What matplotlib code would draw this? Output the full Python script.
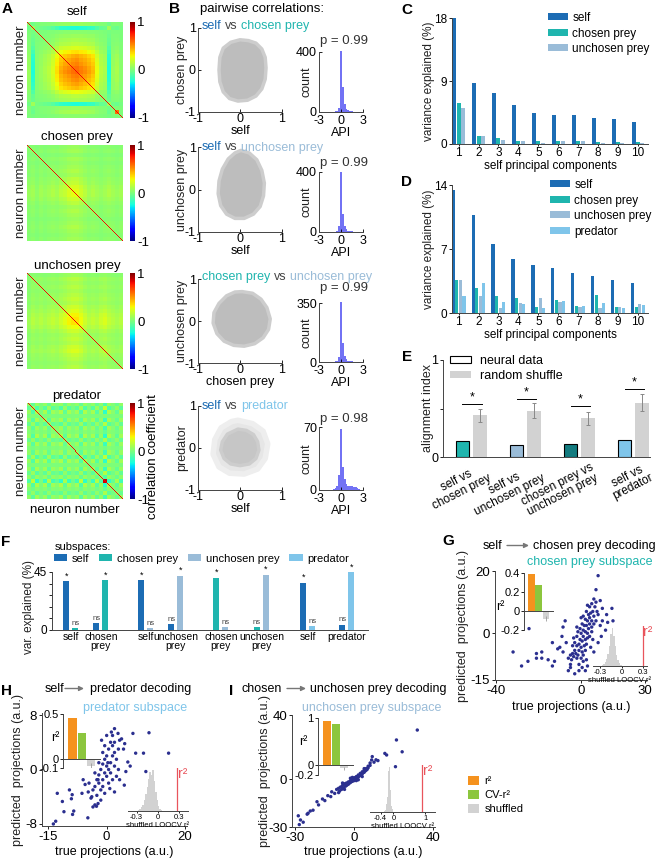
import numpy as np
import matplotlib.pyplot as plt
from matplotlib.patches import Patch

plt.rcParams['font.family'] = ['Liberation Sans', 'DejaVu Sans']
plt.rcParams['font.size'] = 8.5
plt.rcParams['axes.linewidth'] = 0.7
plt.rcParams['axes.edgecolor'] = '#444444'
plt.rcParams['axes.unicode_minus'] = False
plt.rcParams['xtick.major.size'] = 2
plt.rcParams['ytick.major.size'] = 2
plt.rcParams['xtick.major.width'] = 0.6
plt.rcParams['ytick.major.width'] = 0.6
plt.rcParams['xtick.major.pad'] = 1.5
plt.rcParams['ytick.major.pad'] = 1.5

# colours
C_SELF = '#1c6cb4'
C_CHOSEN = '#1fb5ae'
C_UNCH = '#9abcd8'
C_PRED = '#7fc5ea'
C_DARKTEAL = '#137b7f'
C_HIST = '#7272f4'
C_CLOUD = '#bdbdbd'
C_DOT = '#2b2f8f'
C_ORANGE = '#f5921e'
C_GREEN = '#8cc63e'
C_SHUF = '#d2d2d2'
C_RED = '#e9545c'

# ---------------- A: correlation matrices (group loadings, 24 groups x 4 neurons)
self_load_a = [0.1, -0.3, 0.05, 0.1, 0.15, 0.2, 0.3, 0.45, 0.6, 0.66, 0.7, 0.75,
               0.78, 0.72, 0.68, 0.62, 0.55, 0.35, 0.2, 0.15, -0.3, 0.1, 0.15, 0.05]
self_load_b = [0, 0, 0, 0, 0, 0, 0, 0, 0, 0, 0, 0,
               0, 0, 0, 0, 0, 0, 0, 0, 0, 0, 0.75, 0]
chosen_load_a = [0.15, 0.2, 0.1, 0.2, 0.15, 0.2, 0.25, 0.2, 0.3, 0.35, 0.45, 0.5,
                 0.5, 0.4, 0.3, 0.2, 0.25, 0.2, 0.15, 0.2, 0.25, 0.2, 0.15, 0.2]
chosen_load_b = [0] * 24
unch_load_a = [0.15, 0.25, 0.2, 0.25, 0.2, 0.25, 0.3, 0.25, 0.35, 0.42, 0.52, 0.58,
               0.58, 0.48, 0.35, 0.25, 0.3, 0.25, 0.35, 0.4, 0.3, 0.25, 0.2, 0.25]
unch_load_b = [0] * 24
pred_load_a = [0.2, -0.3, 0.35, 0.0, 0.3, -0.25, 0.25, 0.1, 0.35, -0.2, 0.3, 0.05,
               0.25, -0.3, 0.35, 0.0, 0.3, -0.25, 0.2, -0.55, 0.35, 0.1, -0.2, 0.25]
pred_load_b = [0, 0, 0, 0, 0, 0, 0, 0, 0, 0, 0, 0,
               0, 0, 0, 0, 0, 0, 0, 0.85, 0, 0, 0, 0]
A_titles = ['self', 'chosen prey', 'unchosen prey', 'predator']
A_diag = 0.8

# ---------------- B: pairwise correlation clouds (outline of the dense point cloud)
cloud1 = [(0.0, 0.72), (0.2, 0.70), (0.38, 0.64), (0.52, 0.50), (0.60, 0.30), (0.62, 0.05),
          (0.60, -0.22), (0.52, -0.45), (0.38, -0.62), (0.18, -0.72), (-0.05, -0.74),
          (-0.25, -0.68), (-0.40, -0.52), (-0.48, -0.28), (-0.50, 0.0), (-0.48, 0.30),
          (-0.40, 0.52), (-0.22, 0.66)]
cloud2 = [(0.02, 0.92), (0.22, 0.86), (0.40, 0.70), (0.52, 0.45), (0.58, 0.15), (0.56, -0.15),
          (0.48, -0.40), (0.32, -0.58), (0.10, -0.68), (-0.12, -0.68), (-0.32, -0.58),
          (-0.46, -0.38), (-0.52, -0.10), (-0.50, 0.20), (-0.42, 0.48), (-0.28, 0.72),
          (-0.12, 0.86)]
cloud3 = [(0.05, 0.70), (0.30, 0.66), (0.50, 0.52), (0.64, 0.32), (0.72, 0.05), (0.68, -0.20),
          (0.55, -0.40), (0.35, -0.54), (0.10, -0.60), (-0.15, -0.58), (-0.38, -0.48),
          (-0.55, -0.30), (-0.64, -0.05), (-0.62, 0.20), (-0.50, 0.42), (-0.32, 0.60),
          (-0.12, 0.69)]
cloud4 = [(-0.05, 0.45), (0.15, 0.42), (0.32, 0.32), (0.42, 0.15), (0.45, -0.05), (0.38, -0.25),
          (0.22, -0.38), (0.0, -0.42), (-0.22, -0.38), (-0.38, -0.25), (-0.46, -0.05),
          (-0.42, 0.15), (-0.30, 0.33)]
cloud4_halo = [(-0.05, 0.66), (0.3, 0.58), (0.55, 0.4), (0.66, 0.1), (0.6, -0.25), (0.42, -0.5),
               (0.1, -0.62), (-0.25, -0.6), (-0.5, -0.45), (-0.64, -0.15), (-0.6, 0.2),
               (-0.45, 0.48), (-0.2, 0.63)]
B_xlabels = ['self', 'self', 'chosen prey', 'self']
B_ylabels = ['chosen prey', 'unchosen prey', 'unchosen prey', 'predator']
B_titles = [[('self', C_SELF), ('vs', '#444444'), ('chosen prey', C_CHOSEN)],
            [('self', C_SELF), ('vs', '#444444'), ('unchosen prey', C_UNCH)],
            [('chosen prey', C_CHOSEN), ('vs', '#444444'), ('unchosen prey', C_UNCH)],
            [('self', C_SELF), ('vs', '#444444'), ('predator', C_PRED)]]
api_centers = np.arange(-1.5, 3.0, 0.25)
api_counts1 = [0, 1, 2, 4, 8, 30, 410, 170, 55, 22, 12, 8, 5, 3, 2, 1, 1, 0]
api_counts2 = [0, 1, 2, 3, 6, 40, 400, 120, 40, 18, 10, 6, 4, 2, 1, 1, 0, 0]
api_counts3 = [0, 1, 2, 3, 6, 30, 355, 110, 35, 15, 8, 5, 3, 2, 1, 1, 0, 0]
api_counts4 = [0, 0, 1, 2, 5, 17, 68, 26, 12, 7, 5, 4, 4, 3, 3, 2, 1, 0]
api_ymax = [400, 400, 350, 70]
api_p = ['p = 0.99', 'p = 0.99', 'p = 0.99', 'p = 0.98']

# ---------------- C / D: variance explained in self principal components
pcs = [1, 2, 3, 4, 5, 6, 7, 8, 9, 10]
C_self = [18.0, 8.7, 7.3, 5.6, 4.5, 4.2, 4.1, 3.7, 3.6, 3.1]
C_chosen = [5.8, 1.1, 0.9, 0.5, 0.4, 0.5, 0.5, 0.3, 0.3, 0.3]
C_unch = [5.1, 1.1, 0.6, 0.4, 0.2, 0.5, 0.4, 0.15, 0.1, 0.1]
D_self = [13.4, 10.7, 7.6, 5.9, 5.2, 4.9, 4.4, 4.1, 3.6, 3.3]
D_chosen = [3.6, 2.7, 1.9, 1.6, 0.65, 1.4, 0.75, 2.0, 0.65, 0.7]
D_unch = [3.6, 1.9, 0.6, 1.1, 1.6, 1.2, 0.65, 0.5, 0.7, 1.0]
D_pred = [1.9, 3.3, 1.2, 0.95, 0.55, 1.3, 0.75, 1.1, 0.6, 0.9]

# ---------------- E: alignment index
E_groups = ['self vs\nchosen prey', 'self vs\nunchosen prey',
            'chosen prey vs\nunchosen prey', 'self vs\npredator']
E_neural = [0.162, 0.128, 0.138, 0.18]
E_shuffle = [0.43, 0.476, 0.40, 0.56]
E_shuffle_err = [0.069, 0.078, 0.069, 0.09]
E_sig_y = [0.55, 0.60, 0.53, 0.70]
E_colors = [C_CHOSEN, C_UNCH, C_DARKTEAL, C_PRED]

# ---------------- F: variance explained in subspaces
F_pos = [0, 1, 2.5, 3.5, 5, 6.35, 7.9, 9.2]
F_labels = ['self', 'chosen\nprey', 'self', 'unchosen\nprey', 'chosen\nprey',
            'unchosen\nprey', 'self', 'predator']
F_left = [38.0, 5.0, 38.5, 4.4, 40.6, 2.3, 36.7, 3.9]
F_right = [1.0, 38.5, 0.8, 42.0, 1.8, 43.0, 2.9, 45.0]
F_left_sub = ['self', 'self', 'self', 'self', 'chosen prey', 'chosen prey', 'self', 'self']
F_right_sub = ['chosen prey', 'chosen prey', 'unchosen prey', 'unchosen prey',
               'unchosen prey', 'unchosen prey', 'predator', 'predator']
F_left_sig = ['*', 'ns', '*', 'ns', '*', 'ns', '*', 'ns']
F_right_sig = ['ns', '*', 'ns', '*', 'ns', '*', 'ns', '*']
sub_colors = {'self': C_SELF, 'chosen prey': C_CHOSEN,
              'unchosen prey': C_UNCH, 'predator': C_PRED}

# ---------------- G / H / I: decoding (true, predicted)
G_points = [(-32, -6), (-28, -10.5), (-25, -9), (-24.5, 1.5), (-21, -8), (-21, -6.5), (-18.5, -8),
            (-18.5, -6), (-15.5, -8.5), (-13.5, -3), (-13.5, -10.5), (-12.5, -9), (-11, -5),
            (-10, -4.5), (-9, -1), (-8.5, 2), (-7.5, 4), (-8.5, -6), (-7, -3), (-6, -12),
            (-5, -11), (-5, -10), (-4.5, -8.5), (-6, -8), (-3, -13), (-1, -12), (0.5, -11),
            (2, -12), (3, -10.5), (1, -9), (-5, -7), (-4, -6.5), (-3.5, -7.5), (-3, -5.5),
            (-2.5, -6.5), (-2, -8), (-1.5, -7), (-1, -5.5), (-2, -4), (-3, -3), (-1, -3.5),
            (0, -4.5), (0.5, -6), (1, -7), (-0.5, -2), (0.5, -2.5), (1.5, -4), (2, -5.5), (0, 0),
            (1, -1), (2, -2), (2.5, -3.5), (3, -1.5), (1, 1), (2, 0.5), (3, 0), (3.5, 1.5),
            (2.5, 2.5), (1.5, 2.5), (0.5, 3), (-0.5, 1.5), (-1.5, 0.5), (4, 3), (3, 4), (2, 4.5),
            (4, 5), (5, 4), (4.5, 6.5), (3.5, 6), (5.5, 7), (6, 5.5), (2.5, 7), (4, 8.5),
            (5, 9.5), (6.5, 8.5), (6, 11), (7, 10), (7.5, 7), (8, 6), (-2, -1), (-3.5, -1.5),
            (-4, -4), (5, 2), (6, 3), (7, 4), (1, 5.5), (3, 9), (0, -8), (2.5, -8.5), (-1, -10),
            (4, -1), (5, 0.5), (-2, 2), (0, 5), (8, 18.5), (7, 14), (9, 10.5), (10, 8),
            (14.5, 8), (12, 6), (12.5, 3.5), (11.5, 1), (9.5, -1), (8, -3), (9, 2.5), (15, 4),
            (6, -6), (4.5, -4.5), (10, 4), (5.5, -2)]
H_points = [(-13.6, -8), (-13, -7.6), (-4.8, -7.1), (-10.9, -6.2), (-8.7, -6.6), (-8.4, -6.1),
            (-12.6, -3.5), (-11.3, -4.7), (-9.5, -3), (-8.8, -3.7), (-9, -4.3), (-6.3, -3.5),
            (-4.7, -3.3), (-3.8, -4), (-3, -5.2), (-2.6, -5.4), (-2.2, -5), (-6, -1.5),
            (-5.5, -2.2), (-4, -4.2), (-3.5, -3), (-3, -2.5), (-2.5, -3.8), (-2, -2), (-1.5, -3),
            (-1, -1.5), (-2, -0.8), (-1.5, 0), (-1, -2.5), (-0.5, -0.5), (0, -1), (0, 0.5),
            (0.5, -2), (0.5, 0), (1, 1), (1, -0.5), (-0.5, 1.5), (0, 2), (1.5, 2), (-1, 2.5),
            (0.5, 3), (1.5, 3.5), (2, 2.5), (2, 0.5), (2.5, 1.5), (-0.5, 3.5), (1, 4), (2, 4),
            (-1.3, 4.3), (2.5, -1), (1.5, -1.5), (-2.5, -1.5), (-3, -0.5), (-1, 0.8), (0.3, 1),
            (-2.2, -1.5), (2, -3.3), (4.5, -2.3), (3.3, -1.5), (4.9, -0.3), (-3.5, -5.5),
            (-1.5, -4.5), (-0.5, -3.5), (0.8, -2.8), (-2, 1), (3, 0), (-4.5, -2), (2, 6),
            (1.2, 5.5), (2.9, 5.3), (3.8, 4.5), (4.6, 3.8), (3.3, 4.3), (0, 5), (1.5, 5), (3, 3),
            (4.3, 3), (6.7, 5.3), (10.8, 5.4), (15.8, 2.4), (9.4, 2.4), (10, -0.3), (5.4, 1.1),
            (7.4, 2.4), (6, 0.5)]
I_points = [(-28, -28.5), (-27.4, -25.6), (-28.5, -23), (-24, -22), (-23.5, -21.4), (-22.4, -20),
            (-21, -19.5), (-19, -14.2), (-18.2, -16.2), (-16.2, -12.5), (-13.5, -10.4),
            (-11.5, -8), (-10, -9), (-12, -11), (-9, -6.5), (-8, -5.8), (-7.5, -7.5), (-7, -5),
            (-6.5, -6.5), (-6, -4), (-5.5, -5.5), (-5, -3), (-4.5, -4.5), (-4, -2.5), (-4, -4),
            (-3.5, -3.5), (-3, -1.8), (-3, -3.2), (-2.5, -2.5), (-2, -1), (-2, -2.2),
            (-1.5, -1.5), (-1, -0.2), (-1, -1.5), (-0.5, -0.8), (0, 0), (0, 0.8), (0, -1),
            (0.5, 0.5), (1, 1.5), (1, 0.2), (1.5, 1), (2, 2.5), (2, 1.2), (2.5, 2), (3, 3.5),
            (3, 2.2), (3.5, 3), (4, 4.5), (4, 3.2), (4.5, 4), (5, 5.5), (5, 4.2), (5.5, 5),
            (6, 6.5), (6, 5.5), (6.5, 6), (7, 8), (7, 7), (8, 8.5), (8.8, 11.9), (8, 10),
            (9.1, 14), (10, 10.5), (11, 12), (12, 11.5), (-6, -2.5), (-2, 0.5), (-8, -8.5),
            (2, -0.5), (4, 1.5), (-5, -6.5), (5, 6.5), (1, -1), (-1, 1), (15.5, 16), (16.4, 15),
            (20.9, 7.7), (21.4, 24.4), (24.3, 17), (32, 30.6), (-15, -13.5), (-26, -27)]
G_r2 = [0.39, 0.27, -0.08]
H_r2 = [0.46, 0.29, -0.08]
I_r2 = [0.93, 0.86, -0.06]
r2_err = [0.03, 0.03, 0.03]
G_shuf = [1, 2, 4, 7, 12, 20, 32, 38, 30, 20, 11, 6, 3, 1]
H_shuf = [1, 2, 4, 6, 10, 16, 22, 30, 36, 33, 38, 28, 18, 10, 5, 2, 1]
I_shuf = [1, 2, 4, 8, 15, 28, 40, 44, 36, 22, 12, 6, 3, 1]
G_r2_true, H_r2_true, I_r2_true = 0.29, 0.27, 0.9

# ================================================================ figure
W, H = 656, 859
fig = plt.figure(figsize=(W / 100, H / 100), dpi=100)


def add_px(x0, y0, x1, y1):
    return fig.add_axes([x0 / W, 1 - y1 / H, (x1 - x0) / W, (y1 - y0) / H])


def to_axes(ax, x, y):
    bb = ax.get_position()
    return ((x / W - bb.x0) / bb.width, ((1 - y / H) - bb.y0) / bb.height)


def ylab(ax, text, x, size=9, color='#222222', yc=0.5):
    ax.set_ylabel(text, va='center', fontsize=size, color=color)
    ax.yaxis.set_label_coords(to_axes(ax, x, 0)[0], yc)


def xlab(ax, text, y, size=9):
    ax.set_xlabel(text, va='center', fontsize=size)
    ax.xaxis.set_label_coords(0.5, to_axes(ax, 0, y)[1])


def lspines(ax):
    ax.spines['top'].set_visible(False)
    ax.spines['right'].set_visible(False)


ov = fig.add_axes([0, 0, 1, 1], zorder=20)
ov.set_xlim(0, W)
ov.set_ylim(H, 0)
ov.axis('off')


def color_text(x, y, parts, size=9):
    t = ov.text(x, y, parts[0][0], color=parts[0][1], fontsize=size, va='baseline')
    for s, c in parts[1:]:
        t = ov.annotate(s, xy=(1, 0), xycoords=t, xytext=(2.5, 0),
                        textcoords='offset points', va='bottom', color=c, fontsize=size)


for letter, x, y in [('A', 7, 9), ('B', 174, 9), ('C', 407, 10), ('D', 407, 182),
                     ('E', 407, 357), ('F', 6, 542), ('G', 448, 541), ('H', 7, 691),
                     ('I', 231, 691)]:
    ov.text(x, y, letter, fontsize=11, fontweight='bold', ha='center', va='center')

# ---------------- A
A_loads = [(self_load_a, self_load_b), (chosen_load_a, chosen_load_b),
           (unch_load_a, unch_load_b), (pred_load_a, pred_load_b)]
A_tops = [22, 145, 273, 403]
A_title_y = [12, 137, 266, 396]
for i in range(4):
    a = np.repeat(A_loads[i][0], 4)
    b = np.repeat(A_loads[i][1], 4)
    corr = np.clip(np.outer(a, a) + np.outer(b, b), -1, 0.85)
    np.fill_diagonal(corr, A_diag)
    top = A_tops[i]
    ax = add_px(27, top, 123, top + 96)
    im = ax.imshow(corr, cmap='jet', vmin=-1, vmax=1, interpolation='nearest', aspect='auto')
    ax.set_xticks([])
    ax.set_yticks([])
    for s in ax.spines.values():
        s.set_visible(False)
    ylab(ax, 'neuron number', 21, size=9.5)
    ov.text(77, A_title_y[i], A_titles[i], fontsize=9.5, ha='center', va='center')
    cax = add_px(130, top, 135, top + 96)
    cb = fig.colorbar(im, cax=cax, ticks=[-1, 0, 1])
    cb.outline.set_visible(False)
    cax.tick_params(labelsize=9.5, length=0, pad=1.5)
    if i == 3:
        xlab(ax, 'neuron number', 510, size=9.5)
        ov.text(153, 457, 'correlation coefficient', rotation=90, fontsize=9.5,
                ha='center', va='center')

# ---------------- B
ov.text(200, 12, 'pairwise correlations:', fontsize=9.5, va='baseline')
clouds = [cloud1, cloud2, cloud3, cloud4]
api_counts = [api_counts1, api_counts2, api_counts3, api_counts4]
sc_rows = [(28, 112), (147, 232), (279, 363), (406, 490)]
hi_rows = [(52, 112), (172, 232), (303, 362), (427, 490)]
title_base = [29, 150.5, 280, 409]
p_base = [44, 166, 291, 422]
for i in range(4):
    ax = add_px(198, sc_rows[i][0], 282, sc_rows[i][1])
    if i == 3:
        hx, hy = zip(*cloud4_halo)
        ax.fill(hx, hy, facecolor='#e6e6e6', edgecolor='#eeeeee', lw=4, joinstyle='round')
    cx, cy = zip(*clouds[i])
    ax.fill(cx, cy, facecolor=C_CLOUD if i < 3 else '#c6c6c6', edgecolor='#cdcdcd',
            lw=2.5, joinstyle='round')
    ax.set_xlim(-1, 1)
    ax.set_ylim(-1, 1)
    ax.set_xticks([-1, 0, 1])
    ax.set_yticks([-1, 0, 1])
    ax.tick_params(labelsize=9, direction='in')
    ax.tick_params(axis='x', pad=0.8)
    ax.tick_params(axis='y', pad=1.5)
    lspines(ax)
    ylab(ax, B_ylabels[i], 182)
    xlab(ax, B_xlabels[i], sc_rows[i][1] + 19)
    color_text(202, title_base[i], B_titles[i], size=9)

    axh = add_px(319, hi_rows[i][0], 363, hi_rows[i][1])
    axh.bar(api_centers, api_counts[i], width=0.25, color=C_HIST, clip_on=False)
    axh.set_xlim(-3, 3)
    axh.set_ylim(0, api_ymax[i])
    axh.set_xticks([-3, 0, 3])
    axh.set_yticks([0, api_ymax[i]])
    axh.tick_params(labelsize=9, direction='in')
    axh.tick_params(axis='x', pad=2.5)
    axh.tick_params(axis='y', pad=1.5)
    lspines(axh)
    ylab(axh, 'count', 306)
    xlab(axh, 'API', hi_rows[i][1] + 21)
    ov.text(320, p_base[i], api_p[i], fontsize=9.5, va='baseline', color='#333333')


# ---------------- C and D
def pc_panel(rect, series, colors, names, offsets, width, ymax, yt, xlab_y, leg_anchor):
    ax = add_px(*rect)
    for vals, col, nm, off in zip(series, colors, names, offsets):
        ax.bar(np.array(pcs) + off, vals, width=width, color=col, label=nm)
    ax.set_xlim(0.67, 10.5)
    ax.set_ylim(0, ymax)
    ax.set_xticks(pcs)
    ax.set_yticks(yt)
    ax.tick_params(labelsize=8.5)
    ax.tick_params(axis='x', length=1.5, pad=1)
    lspines(ax)
    ylab(ax, 'variance explained (%)', 429, size=8.5)
    xlab(ax, 'self principal components', xlab_y, size=8.5)
    ax.legend(loc='upper left', bbox_to_anchor=to_axes(ax, *leg_anchor), frameon=False,
              fontsize=8.5, handlelength=1.7, handleheight=0.55, handletextpad=0.35,
              labelspacing=0.3, borderpad=0, borderaxespad=0)
    return ax


pc_panel((452, 18, 648, 144), [C_self, C_chosen, C_unch], [C_SELF, C_CHOSEN, C_UNCH],
         ['self', 'chosen prey', 'unchosen prey'], [-0.22, 0.0, 0.22], 0.2, 18, [0, 9, 18],
         166, (548, 12))
pc_panel((452, 185, 648, 313), [D_self, D_chosen, D_unch, D_pred],
         [C_SELF, C_CHOSEN, C_UNCH, C_PRED],
         ['self', 'chosen prey', 'unchosen prey', 'predator'],
         [-0.27, -0.09, 0.09, 0.27], 0.16, 14, [0, 7, 14], 335, (550, 179))

# ---------------- E
axE = add_px(443, 360, 650, 457)
gx = np.arange(len(E_groups))
axE.bar(gx - 0.16, E_neural, width=0.25, color=E_colors, edgecolor='black', lw=0.8)
axE.bar(gx + 0.16, E_shuffle, width=0.25, color=C_SHUF, yerr=E_shuffle_err,
        error_kw=dict(ecolor='#888888', elinewidth=0.7, capsize=1.5, capthick=0.7))
for g, sy in zip(gx, E_sig_y):
    axE.plot([g - 0.16, g + 0.2], [sy, sy], color='black', lw=0.7)
    axE.text(g + 0.02, sy + 0.005, '*', ha='center', va='bottom', fontsize=9)
axE.set_xlim(-0.52, 3.31)
axE.set_ylim(0, 1)
axE.set_yticks([0, 0.5, 1])
axE.set_yticklabels(['0', '', '1'])
axE.set_xticks(gx + 0.2)
axE.set_xticklabels(E_groups, rotation=27, ha='right', rotation_mode='anchor',
                    multialignment='center', fontsize=8.5, linespacing=1.0)
axE.tick_params(axis='x', length=0, pad=3)
axE.tick_params(axis='y', labelsize=9)
lspines(axE)
ylab(axE, 'alignment index', 428)
axE.legend(handles=[Patch(facecolor='white', edgecolor='black', lw=0.8),
                    Patch(facecolor=C_SHUF)],
           labels=['neural data', 'random shuffle'], loc='upper left',
           bbox_to_anchor=to_axes(axE, 450, 355), frameon=False, fontsize=9,
           handlelength=1.7, handleheight=0.55, handletextpad=0.7, labelspacing=0.25,
           borderpad=0, borderaxespad=0)

# ---------------- F
axF = add_px(52, 572, 368, 629.5)
fp = np.array(F_pos)
axF.bar(fp - 0.15, F_left, width=0.2, color=[sub_colors[s] for s in F_left_sub])
axF.bar(fp + 0.15, F_right, width=0.2, color=[sub_colors[s] for s in F_right_sub])
for x, v, s in list(zip(fp - 0.15, F_left, F_left_sig)) + list(zip(fp + 0.15, F_right, F_right_sig)):
    if s == '*':
        axF.text(x, v + 0.5, s, ha='center', va='bottom', fontsize=6.5)
    else:
        axF.text(x, v + 0.8, s, ha='center', va='bottom', fontsize=5.5, color='#444444')
axF.set_xlim(-0.63, 9.9)
axF.set_ylim(0, 45)
axF.set_yticks([0, 9, 18, 27, 36, 45])
axF.set_yticklabels(['0', '', '', '', '', '45'])
axF.set_xticks(fp)
axF.set_xticklabels(F_labels, fontsize=7.5, linespacing=0.9)
axF.tick_params(axis='x', length=0, pad=1.5)
axF.tick_params(axis='y', labelsize=8.5)
lspines(axF)
ylab(axF, 'var. explained (%)', 29, size=8.5, yc=0.4)
ov.text(55, 547, 'subspaces:', fontsize=8, va='center')
axF.legend(handles=[Patch(facecolor=sub_colors[k]) for k in sub_colors],
           labels=list(sub_colors), loc='center left', ncol=4,
           bbox_to_anchor=to_axes(axF, 54, 558.5), frameon=False, fontsize=8,
           handlelength=1.2, handleheight=0.5, handletextpad=0.4, columnspacing=0.9,
           borderpad=0, borderaxespad=0)


# ---------------- G, H, I
def decode_panel(rect, points, xlim, ylim, xt, yt, ylab_x, xlab_y,
                 in_rect, r2, in_ylim, in_ticks, r2lab_xy,
                 h_rect, shuf, h_xlim, h_ticks, r2_true):
    ax = add_px(*rect)
    px, py = zip(*points)
    ax.scatter(px, py, s=6, color=C_DOT, edgecolors='none', zorder=3)
    ax.set_xlim(*xlim)
    ax.set_ylim(*ylim)
    ax.set_xticks(xt)
    ax.set_yticks(yt)
    ax.tick_params(labelsize=9.5)
    lspines(ax)
    ylab(ax, 'predicted  projections (a.u.)', ylab_x, size=9)
    xlab(ax, 'true projections (a.u.)', xlab_y, size=9)

    axi = add_px(*in_rect)
    axi.patch.set_alpha(0)
    axi.bar([0, 1, 2], r2, width=0.9, color=[C_ORANGE, C_GREEN, C_SHUF])
    axi.errorbar([2], [r2[2]], yerr=[r2_err[2]], color='#9a9a9a', lw=0.6, capsize=0)
    axi.set_xlim(-1.05, 3.0)
    axi.set_ylim(*in_ylim)
    axi.set_yticks(in_ticks)
    axi.set_yticklabels([('%g' % t) for t in in_ticks])
    axi.set_xticks([])
    axi.spines['top'].set_visible(False)
    axi.spines['right'].set_visible(False)
    axi.spines['bottom'].set_position(('data', 0))
    axi.tick_params(labelsize=8, pad=1)
    ov.text(r2lab_xy[0], r2lab_xy[1], 'r²', fontsize=9, ha='center', va='center')

    axh = add_px(*h_rect)
    axh.patch.set_alpha(0)
    centers = -0.27 + 0.02 * np.arange(len(shuf))
    axh.bar(centers, shuf, width=0.02, color=C_SHUF)
    axh.axvline(r2_true, color=C_RED, lw=0.9)
    axh.annotate('r²', xy=(r2_true, 1), xycoords=('data', 'axes fraction'),
                 xytext=(0.5, 1), textcoords='offset points', ha='left', va='top',
                 color=C_RED, fontsize=10, annotation_clip=False)
    axh.set_xlim(*h_xlim)
    axh.set_ylim(0, max(shuf) * 1.05)
    axh.set_xticks(h_ticks)
    axh.set_xticklabels([('%g' % t) for t in h_ticks])
    axh.set_yticks([])
    for s in ['top', 'right', 'left']:
        axh.spines[s].set_visible(False)
    axh.tick_params(labelsize=5.5, length=1.5, pad=0.8)
    axh.set_xlabel('shuffled LOOCV r²', fontsize=5.5, labelpad=0.5)
    return ax


decode_panel((495, 571, 647, 680), G_points, (-40.5, 31), (-15, 20), [-40, 0, 30],
             [-15, 0, 20], 463, 707,
             (524, 572.7, 553, 630), G_r2, (-0.2, 0.4), [-0.2, 0, 0.2, 0.4], (500, 607),
             (593, 626, 647, 666), G_shuf, (-0.40, 0.35), [-0.3, 0, 0.3], G_r2_true)
decode_panel((42, 713, 187, 826), H_points, (-16.5, 20.5), (-8.3, 8.3), [-15, 0, 20],
             [-8, 0, 8], 18, 852,
             (63, 714.3, 100, 767.7), H_r2, (-0.1, 0.5), [-0.1, 0, 0.5], (55, 738),
             (128, 768, 188, 811), H_shuf, (-0.42, 0.42), [-0.3, 0, 0.3], H_r2_true)
decode_panel((292, 715, 435, 827), I_points, (-31.7, 41), (-30, 40), [-30, 0, 40],
             [-30, 0, 40], 265, 852,
             (318, 717.7, 353, 775), I_r2, (-0.2, 1), [-0.2, 0, 1], (303, 742),
             (370, 765, 435, 812), I_shuf, (-0.73, 1.3), [-0.4, 0, 1], I_r2_true)

arrow_kw = dict(arrowstyle='-|>', color='#777777', lw=1.0, mutation_scale=7,
                shrinkA=0, shrinkB=0)
# G titles
ov.text(483, 549, 'self', fontsize=9, va='baseline')
ov.annotate('', xy=(529, 545.5), xytext=(507, 545.5), arrowprops=arrow_kw)
ov.text(533, 549, 'chosen prey decoding', fontsize=9, va='baseline')
ov.text(527, 565, 'chosen prey subspace', fontsize=9, va='baseline', color=C_CHOSEN)
# H titles
ov.text(45, 692, 'self', fontsize=9, va='baseline')
ov.annotate('', xy=(84, 688.5), xytext=(65, 688.5), arrowprops=arrow_kw)
ov.text(90, 692, 'predator decoding', fontsize=9, va='baseline')
ov.text(83, 710.5, 'predator subspace', fontsize=9, va='baseline', color=C_PRED)
# I titles
ov.text(241, 692, 'chosen', fontsize=9, va='baseline')
ov.annotate('', xy=(306, 688.5), xytext=(287, 688.5), arrowprops=arrow_kw)
ov.text(310, 692, 'unchosen prey decoding', fontsize=9, va='baseline')
ov.text(302, 710.5, 'unchosen prey subspace', fontsize=9, va='baseline', color=C_UNCH)

ov.legend(handles=[Patch(facecolor=C_ORANGE), Patch(facecolor=C_GREEN), Patch(facecolor=C_SHUF)],
          labels=['r²', 'CV-r²', 'shuffled'], loc='upper left',
          bbox_to_anchor=(468 / W, 1 - 776 / H), frameon=False, fontsize=8,
          handlelength=1.0, handleheight=0.8, handletextpad=0.5, labelspacing=0.35,
          borderpad=0, borderaxespad=0)

fig.savefig('out.png', dpi=100)
